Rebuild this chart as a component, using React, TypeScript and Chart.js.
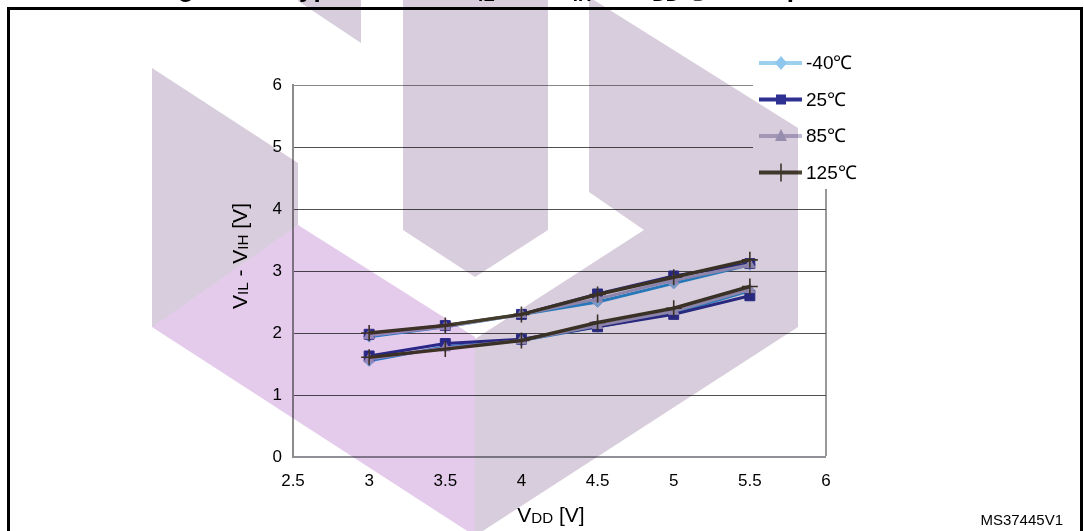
import React, { useEffect, useRef } from 'react';
import { Chart, registerables } from 'chart.js';

Chart.register(...registerables);

// ---------- data ----------
const xValues = [3, 3.5, 4, 4.5, 5, 5.5];
const xTickValues = [2.5, 3, 3.5, 4, 4.5, 5, 5.5, 6];
const xTickLabels = ['2.5', '3', '3.5', '4', '4.5', '5', '5.5', '6'];
const yTickValues = [0, 1, 2, 3, 4, 5, 6];
const yTickLabels = ['0', '1', '2', '3', '4', '5', '6'];
const temperatures = ['-40℃', '25℃', '85℃', '125℃'];

// V_IH (upper group)
const vihM40 = [1.94, 2.1, 2.3, 2.5, 2.8, 3.1];
const vih25 = [1.98, 2.12, 2.3, 2.63, 2.92, 3.12];
const vih85 = [1.96, 2.1, 2.3, 2.55, 2.85, 3.1];
const vih125 = [2.0, 2.12, 2.3, 2.62, 2.9, 3.18];
// V_IL (lower group)
const vilM40 = [1.55, 1.78, 1.88, 2.1, 2.32, 2.68];
const vil25 = [1.63, 1.83, 1.9, 2.1, 2.3, 2.6];
const vil85 = [1.58, 1.76, 1.88, 2.12, 2.35, 2.7];
const vil125 = [1.61, 1.74, 1.88, 2.17, 2.4, 2.75];

// ---------- styles ----------
const FONT = '"Liberation Sans Narrow", "Liberation Sans", Arial, sans-serif';
const seriesStyle = [
  { line: '#2C95D6', point: '#8FBDE8', style: 'rectRot', radius: 5.5, width: 3, legendLine: '#9DCFEF', legendPoint: '#8FC6EE' },
  { line: '#2E3192', point: '#2E3192', style: 'rect', radius: 7, width: 3, legendLine: '#2E3192', legendPoint: '#2E3192' },
  { line: '#A7A4C6', point: '#A7A4C6', style: 'triangle', radius: 6, width: 3, legendLine: '#BEBBD2', legendPoint: '#B2AFCA' },
  { line: '#433C2A', point: '#433C2A', style: 'cross', radius: 8, width: 3.5, legendLine: '#4A4532', legendPoint: '#4A4532' },
];

const toPts = (arr: number[]) => xValues.map((x, i) => ({ x, y: arr[i] }));

function makeDataset(label: string, arr: number[], s: any, order: number) {
  return {
    label,
    data: toPts(arr),
    borderColor: s.line,
    backgroundColor: s.point,
    borderWidth: s.width,
    pointStyle: s.style,
    pointRadius: s.radius,
    pointBackgroundColor: s.point,
    pointBorderColor: s.point,
    pointBorderWidth: s.style === 'cross' ? 1.6 : 1,
    tension: 0,
    order,
  };
}

const bgPlugin = {
  id: 'bgWhite',
  beforeDraw(chart: any) {
    const { ctx, width, height } = chart;
    ctx.save();
    ctx.fillStyle = '#ffffff';
    ctx.fillRect(0, 0, width, height);
    ctx.restore();
  },
};

const legendPlugin = {
  id: 'excelLegend',
  afterDatasetsDraw(chart: any) {
    const { ctx, chartArea } = chart;
    const boxX = chartArea.right - 73;
    ctx.save();
    ctx.fillStyle = '#ffffff';
    ctx.fillRect(boxX, 40, 135, 149);
    const rows = [63, 99.5, 136, 172.5];
    temperatures.forEach((t, i) => {
      const s = seriesStyle[i];
      const y = rows[i];
      const x0 = boxX + 6;
      const x1 = boxX + 49;
      const mx = boxX + 28;
      ctx.strokeStyle = s.legendLine;
      ctx.lineWidth = 4;
      ctx.beginPath();
      ctx.moveTo(x0, y);
      ctx.lineTo(x1, y);
      ctx.stroke();
      ctx.fillStyle = s.legendPoint;
      ctx.strokeStyle = s.legendPoint;
      ctx.beginPath();
      if (s.style === 'rectRot') {
        ctx.moveTo(mx, y - 7);
        ctx.lineTo(mx + 6, y);
        ctx.lineTo(mx, y + 7);
        ctx.lineTo(mx - 6, y);
        ctx.closePath();
        ctx.fill();
      } else if (s.style === 'rect') {
        ctx.fillRect(mx - 5, y - 5, 10, 10);
      } else if (s.style === 'triangle') {
        ctx.moveTo(mx, y - 7);
        ctx.lineTo(mx + 6, y + 5);
        ctx.lineTo(mx - 6, y + 5);
        ctx.closePath();
        ctx.fill();
      } else {
        ctx.lineWidth = 1.6;
        ctx.moveTo(mx, y - 9);
        ctx.lineTo(mx, y + 9);
        ctx.moveTo(mx - 8, y);
        ctx.lineTo(mx + 8, y);
        ctx.stroke();
      }
      ctx.fillStyle = '#000000';
      ctx.font = `19px ${FONT}`;
      ctx.textBaseline = 'middle';
      ctx.textAlign = 'left';
      ctx.fillText(t, boxX + 53, y + 1);
    });
    ctx.restore();
  },
};

// ST-style watermark drawn on top with multiply blending
const watermarkShapes: { color: string; pts: number[][] }[] = [
  { color: '#D8CDDC', pts: [[298, -5], [361, -5], [361, 43], [298, 1]] },
  { color: '#D8CDDC', pts: [[152, 68], [298, 163], [298, 225], [152, 327]] },
  { color: '#E4CBEB', pts: [[152, 327], [298, 225], [475, 337], [475, 536]] },
  { color: '#D8CDDC', pts: [[589, -3], [798, 128], [798, 327], [475, 536], [475, 339], [644, 230], [589, 192]] },
  { color: '#D8CDDC', pts: [[403, -5], [548, -5], [548, 230], [475, 277], [403, 230]] },
];

const watermarkPlugin = {
  id: 'watermark',
  afterDraw(chart: any) {
    const { ctx } = chart;
    ctx.save();
    ctx.globalCompositeOperation = 'multiply';
    watermarkShapes.forEach((sh) => {
      ctx.fillStyle = sh.color;
      ctx.beginPath();
      sh.pts.forEach((p, i) => (i === 0 ? ctx.moveTo(p[0], p[1]) : ctx.lineTo(p[0], p[1])));
      ctx.closePath();
      ctx.fill();
    });
    ctx.restore();
  },
};

export default function App() {
  const canvasRef = useRef<HTMLCanvasElement | null>(null);

  useEffect(() => {
    document.body.style.margin = '0';
    const canvas = canvasRef.current;
    if (!canvas) return;
    const chart = new Chart(canvas, {
      type: 'line',
      data: {
        datasets: [
          makeDataset(temperatures[3] + ' VIH', vih125, seriesStyle[3], 0),
          makeDataset(temperatures[3] + ' VIL', vil125, seriesStyle[3], 0),
          makeDataset(temperatures[2] + ' VIH', vih85, seriesStyle[2], 1),
          makeDataset(temperatures[2] + ' VIL', vil85, seriesStyle[2], 1),
          makeDataset(temperatures[1] + ' VIH', vih25, seriesStyle[1], 2),
          makeDataset(temperatures[1] + ' VIL', vil25, seriesStyle[1], 2),
          makeDataset(temperatures[0] + ' VIH', vihM40, seriesStyle[0], 3),
          makeDataset(temperatures[0] + ' VIL', vilM40, seriesStyle[0], 3),
        ] as any,
      },
      options: {
        responsive: false,
        animation: false,
        devicePixelRatio: 1,
        layout: { padding: { left: 0, top: 85, right: 258, bottom: 0 } },
        plugins: {
          legend: { display: false },
          tooltip: { enabled: false },
          title: { display: false },
        },
        scales: {
          x: {
            type: 'linear',
            min: 2.5,
            max: 6,
            afterBuildTicks: (scale: any) => {
              scale.ticks = xTickValues.map((v) => ({ value: v }));
            },
            afterFit: (scale: any) => {
              scale.height = 74;
            },
            ticks: {
              autoSkip: false,
              maxRotation: 0,
              padding: 14,
              color: '#000000',
              font: { family: FONT, size: 17 },
              callback: (v: any) => {
                const i = xTickValues.indexOf(Number(v));
                return i >= 0 ? xTickLabels[i] : '';
              },
            },
            grid: {
              drawTicks: false,
              color: (c: any) => (c.tick && c.tick.value === 6 ? '#999999' : 'rgba(0,0,0,0)'),
              lineWidth: (c: any) => (c.tick && c.tick.value === 6 ? 2 : 0),
            },
            border: { display: true, color: '#909096', width: 2 },
          },
          y: {
            type: 'linear',
            min: 0,
            max: 6,
            afterBuildTicks: (scale: any) => {
              scale.ticks = yTickValues.map((v) => ({ value: v }));
            },
            afterFit: (scale: any) => {
              scale.width = 293;
            },
            ticks: {
              padding: 11,
              color: '#000000',
              font: { family: FONT, size: 17 },
              callback: (v: any) => {
                const i = yTickValues.indexOf(Number(v));
                return i >= 0 ? yTickLabels[i] : '';
              },
            },
            grid: {
              drawTicks: false,
              color: (c: any) => {
                const v = c.tick ? c.tick.value : -1;
                if (v === 0) return 'rgba(0,0,0,0)';
                if (v === 6) return '#888888';
                return '#505050';
              },
              lineWidth: 1,
            },
            border: { display: true, color: '#8C8C8C', width: 2 },
          },
        },
      },
      plugins: [bgPlugin, legendPlugin, watermarkPlugin],
    } as any);
    return () => chart.destroy();
  }, []);

  const sub: React.CSSProperties = { fontSize: '0.72em', verticalAlign: '-0.05em' };
  const titleSub: React.CSSProperties = { fontSize: '0.72em', verticalAlign: '-0.22em' };
  const txt: React.CSSProperties = { position: 'absolute', whiteSpace: 'nowrap', color: '#000', zIndex: 2 };

  return (
    <div style={{ position: 'fixed', left: 0, top: 0, width: 1084, height: 531, overflow: 'hidden', background: '#fff' }}>
      <canvas ref={canvasRef} width={1084} height={531} style={{ position: 'absolute', left: 0, top: 0, width: 1084, height: 531 }} />
      <div
        style={{
          position: 'absolute',
          left: 7,
          top: 7,
          width: 1070,
          height: 600,
          border: '3px solid #000',
          zIndex: 2,
          pointerEvents: 'none',
        }}
      />
      <div
        style={{
          ...txt,
          left: 155,
          top: -25,
          fontFamily: '"Liberation Sans", Arial, sans-serif',
          fontWeight: 'bold',
          fontSize: 26,
          lineHeight: '26px',
        }}
      >
        Figure 35. Typical
        <span style={{ marginLeft: 88 }}>
          V<span style={titleSub}>IL</span> and V<span style={titleSub}>IH</span> vs V<span style={titleSub}>DD</span> @ 4 temperatures
        </span>
      </div>
      <div
        style={{
          ...txt,
          left: 241,
          top: 256,
          transform: 'translate(-50%, -50%) rotate(-90deg)',
          fontFamily: FONT,
          fontSize: 21,
          lineHeight: '21px',
        }}
      >
        V<span style={sub}>IL</span> - V<span style={sub}>IH</span> [V]
      </div>
      <div
        style={{
          ...txt,
          left: 551,
          top: 516,
          transform: 'translate(-50%, -50%)',
          fontFamily: FONT,
          fontSize: 21,
          lineHeight: '21px',
        }}
      >
        V<span style={sub}>DD</span> [V]
      </div>
      <div
        style={{
          ...txt,
          right: 21,
          top: 512,
          fontFamily: '"Liberation Sans", Arial, sans-serif',
          fontSize: 15,
          lineHeight: '15px',
        }}
      >
        MS37445V1
      </div>
    </div>
  );
}
